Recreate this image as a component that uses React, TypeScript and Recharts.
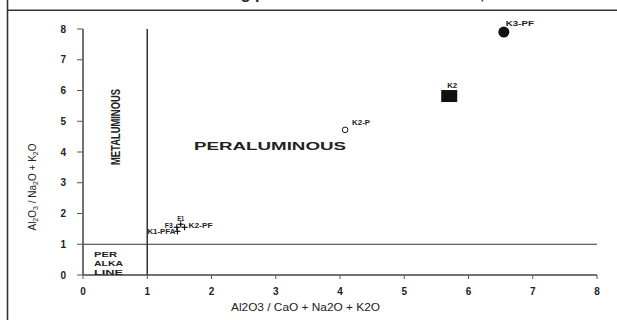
import { ScatterChart, Scatter, XAxis, YAxis, ReferenceLine } from "recharts"

// sample names with A/CNK (x) and A/NK (y) molar ratios
const sampleNames = ["K3-PF", "K2", "K2-P", "E1", "F3", "K2-PF", "K1-PFA"]
const acnkValues = [6.55, 5.7, 4.08, 1.52, 1.46, 1.58, 1.47]
const ankValues = [7.9, 5.82, 4.72, 1.65, 1.55, 1.55, 1.42]
const markerKinds = ["dot", "square", "ring", "cross", "cross", "cross", "cross"]
const axisTicks = [0, 1, 2, 3, 4, 5, 6, 7, 8]

const samples = sampleNames.map((name, i) => ({
  name,
  acnk: acnkValues[i],
  ank: ankValues[i],
  kind: markerKinds[i],
}))

const INK = "#222"
const FONT = "'Liberation Sans', Arial, sans-serif"

// where each sample name sits relative to its marker
const labelPlacement: Record<string, { dx: number; dy: number; anchor: "start" | "middle" | "end"; len: number }> = {
  "K3-PF": { dx: 2, dy: -6, anchor: "start", len: 28 },
  K2: { dx: -2, dy: -8, anchor: "start", len: 10 },
  "K2-P": { dx: 7, dy: -5, anchor: "start", len: 18 },
  E1: { dx: 0, dy: -3, anchor: "middle", len: 7 },
  F3: { dx: -4, dy: 1, anchor: "end", len: 8 },
  "K2-PF": { dx: 4, dy: 1, anchor: "start", len: 24 },
  "K1-PFA": { dx: -2, dy: 3, anchor: "end", len: 28 },
}

function SampleMark(props: any) {
  const { cx, cy, payload } = props
  const place = labelPlacement[payload.name]
  let mark = null
  if (payload.kind === "dot") {
    mark = <circle cx={cx} cy={cy} r={5.5} fill="#111" />
  } else if (payload.kind === "square") {
    mark = <rect x={cx - 8} y={cy - 6} width={16} height={12} fill="#111" />
  } else if (payload.kind === "ring") {
    mark = <circle cx={cx} cy={cy} r={2.8} fill="none" stroke="#111" strokeWidth={1} />
  } else {
    mark = (
      <g stroke="#111" strokeWidth={1.2}>
        <line x1={cx - 3} y1={cy} x2={cx + 3} y2={cy} />
        <line x1={cx} y1={cy - 3} x2={cx} y2={cy + 3} />
      </g>
    )
  }
  return (
    <g>
      {mark}
      <text
        x={cx + place.dx}
        y={cy + place.dy}
        textAnchor={place.anchor}
        fontSize={6.5}
        fontWeight="bold"
        fontFamily={FONT}
        fill={INK}
        textLength={place.len}
        lengthAdjust="spacingAndGlyphs"
      >
        {payload.name}
      </text>
    </g>
  )
}

const tickStyle = { fontSize: 10, fontWeight: "bold" as const, fontFamily: FONT, fill: INK }

export default function App() {
  return (
    <div style={{ position: "fixed", left: 0, top: 0, width: 617, height: 320, background: "#fff" }}>
      <ScatterChart width={617} height={320} margin={{ top: 29, right: 20, bottom: 15, left: 43 }}>
        <XAxis
          type="number"
          dataKey="acnk"
          domain={[0, 8]}
          ticks={axisTicks}
          height={30}
          tickSize={4}
          tickMargin={9}
          tick={tickStyle}
          axisLine={{ stroke: "#444", strokeWidth: 1.5 }}
          tickLine={{ stroke: "#555" }}
        />
        <YAxis
          type="number"
          dataKey="ank"
          domain={[0, 8]}
          ticks={axisTicks}
          width={40}
          tickSize={6}
          tickMargin={11}
          tick={tickStyle}
          axisLine={{ stroke: "#444", strokeWidth: 1.5 }}
          tickLine={{ stroke: "#555" }}
        />
        <ReferenceLine x={1} stroke="#333" strokeWidth={1.5} />
        <ReferenceLine y={1} stroke="#333" strokeWidth={1.2} />
        <Scatter data={samples} shape={SampleMark} isAnimationActive={false} />
      </ScatterChart>

      <svg
        width={617}
        height={320}
        style={{ position: "absolute", left: 0, top: 0, pointerEvents: "none" }}
      >
        <line x1={7.5} y1={0} x2={7.5} y2={320} stroke="#333" strokeWidth={1.6} />
        <line x1={7} y1={10.2} x2={617} y2={10.2} stroke="#333" strokeWidth={1.6} />
        <text x={151} y={-1} fontSize={16} fontWeight="bold" fontFamily={FONT} fill={INK}>
          Plot showing peraluminous nature of rocks, A/CNK vs A/NK
        </text>

        <text
          transform="translate(120,127) rotate(-90)"
          textAnchor="middle"
          fontSize={12}
          fontWeight="bold"
          fontFamily={FONT}
          fill={INK}
          textLength={76}
          lengthAdjust="spacingAndGlyphs"
        >
          METALUMINOUS
        </text>
        <text
          x={194}
          y={150}
          fontSize={11.5}
          fontWeight="bold"
          fontFamily={FONT}
          fill={INK}
          textLength={152}
          lengthAdjust="spacingAndGlyphs"
        >
          PERALUMINOUS
        </text>
        {["PER", "ALKA", "LINE"].map((word, i) => (
          <text
            key={word}
            x={94}
            y={257 + i * 9}
            fontSize={8}
            fontWeight="bold"
            fontFamily={FONT}
            fill={INK}
            textLength={word === "PER" ? 23 : 29}
            lengthAdjust="spacingAndGlyphs"
          >
            {word}
          </text>
        ))}

        <text
          transform="translate(36,187) rotate(-90)"
          textAnchor="middle"
          fontSize={10}
          fontFamily={FONT}
          fill={INK}
        >
          Al<tspan fontSize={7} dy={2}>2</tspan>
          <tspan dy={-2}>O</tspan>
          <tspan fontSize={7} dy={2}>3</tspan>
          <tspan dy={-2}> / Na</tspan>
          <tspan fontSize={7} dy={2}>2</tspan>
          <tspan dy={-2}>O + K</tspan>
          <tspan fontSize={7} dy={2}>2</tspan>
          <tspan dy={-2}>O</tspan>
        </text>
        <text
          x={231}
          y={311}
          fontSize={10}
          fontFamily={FONT}
          fill={INK}
          textLength={149}
          lengthAdjust="spacingAndGlyphs"
        >
          Al2O3 / CaO + Na2O + K2O
        </text>
      </svg>
    </div>
  )
}
